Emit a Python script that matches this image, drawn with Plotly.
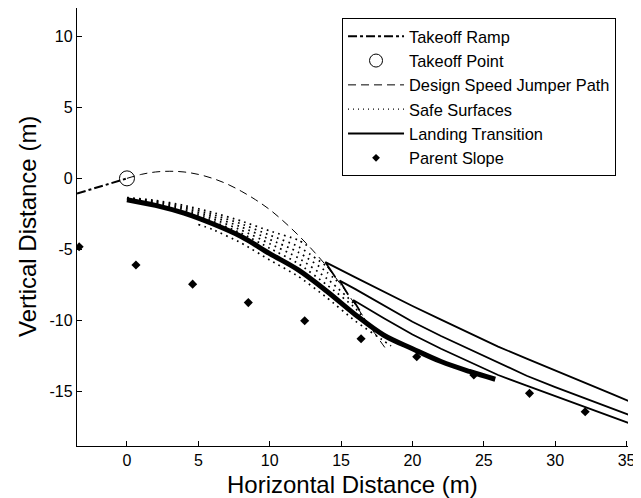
import plotly.graph_objects as go

# ---------------- data ----------------
ramp_x = [-3.5, -2.5, -1.5, -0.5, 0.0]
ramp_y = [-1.07, -0.77, -0.46, -0.15, 0.0]

takeoff_x = [0.0]
takeoff_y = [0.0]

jump_x = [0, 1, 2, 3, 4, 5, 6, 7, 8, 9, 10, 11, 12, 13, 14, 15, 16, 17, 18.2]
jump_y = [0, 0.28, 0.45, 0.5, 0.45, 0.28, 0, -0.39, -0.9, -1.5, -2.2, -3.05,
          -4.0, -5.05, -6.2, -7.5, -8.9, -10.4, -12.1]

# safe surfaces (family of dotted curves)
safe7_x = [0, 2, 4, 6, 8, 10, 12, 12.8]
safe7_y = [-1.35, -1.55, -1.9, -2.4, -3.0, -3.7, -4.35, -4.85]
safe6_x = [0, 2, 4, 6, 8, 10, 12, 14]
safe6_y = [-1.38, -1.62, -2.0, -2.55, -3.2, -4.0, -4.8, -6.2]
safe5_x = [0, 2, 4, 6, 8, 10, 12, 14, 15]
safe5_y = [-1.41, -1.69, -2.1, -2.7, -3.42, -4.3, -5.2, -6.6, -7.5]
safe4_x = [0, 2, 4, 6, 8, 10, 12, 14, 16]
safe4_y = [-1.44, -1.76, -2.2, -2.86, -3.64, -4.6, -5.6, -7.05, -8.9]
safe3_x = [0, 2, 4, 6, 8, 10, 12, 14, 16, 17]
safe3_y = [-1.47, -1.83, -2.32, -3.02, -3.86, -4.92, -6.0, -7.5, -9.15, -10.4]
safe1_x = [5, 6, 8, 10, 12, 14, 16, 18, 18.5]
safe1_y = [-3.25, -3.6, -4.55, -5.75, -6.9, -8.4, -10.05, -11.45, -11.8]

land_x = [0, 2, 4, 6, 8, 10, 12, 14, 16, 18, 20, 22, 24, 25.8]
land_y = [-1.5, -1.9, -2.45, -3.2, -4.1, -5.3, -6.45, -7.95, -9.6, -11.05,
          -12.0, -12.9, -13.6, -14.15]

# other (thin) transition curves
thinA_x = [14.6, 13.9, 16, 18, 20, 22, 24, 26, 28, 30, 32, 34, 35.2]
thinA_y = [-6.97, -5.9, -6.97, -7.99, -8.99, -9.95, -10.9, -11.85, -12.7,
           -13.55, -14.38, -15.2, -15.7]
thinB_x = [15.5, 14.9, 16, 18, 20, 22, 24, 26, 28, 30, 32, 34, 35.2]
thinB_y = [-8.2, -7.2, -7.8, -8.95, -10.1, -11.1, -12.05, -13.0, -13.9,
           -14.7, -15.45, -16.2, -16.67]
thinC_x = [16.3, 15.85, 18, 20, 22, 24, 26, 28, 30, 32, 34, 35.2]
thinC_y = [-9.3, -8.57, -9.85, -11.0, -12.0, -12.95, -13.85, -14.6, -15.35,
           -16.05, -16.8, -17.25]

parent_x = [-3.35, 0.63, 4.6, 8.5, 12.45, 16.4, 20.3, 24.3, 28.2, 32.1]
parent_y = [-4.82, -6.1, -7.45, -8.75, -10.03, -11.3, -12.56, -13.85, -15.14, -16.44]

x_ticks = [0, 5, 10, 15, 20, 25, 30, 35]
y_ticks = [-15, -10, -5, 0, 5, 10]
y_ticktext = ["-15", "-10", "-5", "0", "5", "10"]

legend_names = ["Takeoff Ramp", "Takeoff Point", "Design Speed Jumper Path",
                "Safe Surfaces", "Landing Transition", "Parent Slope"]
x_title = "Horizontal Distance (m)"
y_title = "Vertical Distance (m)"

FONT = "Liberation Sans, Arial, sans-serif"
K = "black"

fig = go.Figure()

# safe surfaces
for sx, sy in [(safe7_x, safe7_y), (safe6_x, safe6_y), (safe5_x, safe5_y),
               (safe4_x, safe4_y), (safe3_x, safe3_y), (safe1_x, safe1_y)]:
    fig.add_trace(go.Scatter(x=sx, y=sy, mode="lines", showlegend=False,
                             line=dict(color=K, width=1.7, dash="1.7px,4.3px", shape="spline", smoothing=0.6),
                             hoverinfo="skip"))

# thin transitions
for tx, ty in [(thinA_x, thinA_y), (thinB_x, thinB_y), (thinC_x, thinC_y)]:
    fig.add_trace(go.Scatter(x=tx, y=ty, mode="lines", showlegend=False,
                             line=dict(color=K, width=1.8), hoverinfo="skip"))

# jumper path
fig.add_trace(go.Scatter(x=jump_x, y=jump_y, mode="lines", showlegend=False,
                         line=dict(color=K, width=1, dash="8px,5px", shape="spline")))
# landing transition thick
fig.add_trace(go.Scatter(x=land_x, y=land_y, mode="lines", showlegend=False,
                         line=dict(color=K, width=5, shape="spline")))
# ramp
fig.add_trace(go.Scatter(x=ramp_x, y=ramp_y, mode="lines", showlegend=False,
                         line=dict(color=K, width=2, dash="dashdot")))
# takeoff point
fig.add_trace(go.Scatter(x=takeoff_x, y=takeoff_y, mode="markers", showlegend=False,
                         marker=dict(symbol="circle-open", size=15, color=K, line=dict(width=1))))
# parent slope
fig.add_trace(go.Scatter(x=parent_x, y=parent_y, mode="markers", showlegend=False,
                         marker=dict(symbol="diamond", size=7, color=K)))

# legend-only entries
leg_styles = [
    dict(mode="lines", line=dict(color=K, width=2, dash="dashdot")),
    dict(mode="markers", marker=dict(symbol="circle-open", size=13, color=K, line=dict(width=1))),
    dict(mode="lines", line=dict(color=K, width=1, dash="8px,5px")),
    dict(mode="lines", line=dict(color=K, width=1.2, dash="1px,4px")),
    dict(mode="lines", line=dict(color=K, width=2)),
    dict(mode="markers", marker=dict(symbol="diamond", size=6, color=K)),
]
for i, (name, st) in enumerate(zip(legend_names, leg_styles)):
    fig.add_trace(go.Scatter(x=[None], y=[None], name=name, showlegend=True, **st))

axis_common = dict(showline=True, linecolor=K, linewidth=1.3, ticks="inside", ticklen=5,
                   tickwidth=1, tickcolor=K, showgrid=False, zeroline=False, mirror=False,
                   automargin=False, tickfont=dict(family=FONT, size=16, color=K))

# the page body adds an 8px offset, so the figure is 8px smaller and shifted
fig.update_layout(
    width=633, height=490, autosize=False,
    margin=dict(l=69, r=13, t=0, b=52),
    paper_bgcolor="white", plot_bgcolor="white",
    font=dict(family=FONT, color=K),
    xaxis=dict(range=[-3.5, 35.1], tickvals=x_ticks, **axis_common),
    yaxis=dict(range=[-18.85, 12.0], tickvals=y_ticks, ticktext=y_ticktext, **axis_common),
    legend=dict(x=0.481, y=0.977, xanchor="left", yanchor="top",
                bgcolor="white", bordercolor=K, borderwidth=1,
                font=dict(family=FONT, size=16.4, color=K), itemwidth=56),
    showlegend=True,
    annotations=[
        dict(text=x_title, xref="paper", yref="paper", x=0.5, y=-0.089,
             xanchor="center", yanchor="middle", showarrow=False,
             font=dict(family=FONT, size=24, color=K)),
        dict(text=y_title, xref="paper", yref="paper", x=-0.0907, y=0.5,
             xanchor="center", yanchor="middle", showarrow=False, textangle=-90,
             font=dict(family=FONT, size=24, color=K)),
    ],
)

fig.write_html("out.html")
